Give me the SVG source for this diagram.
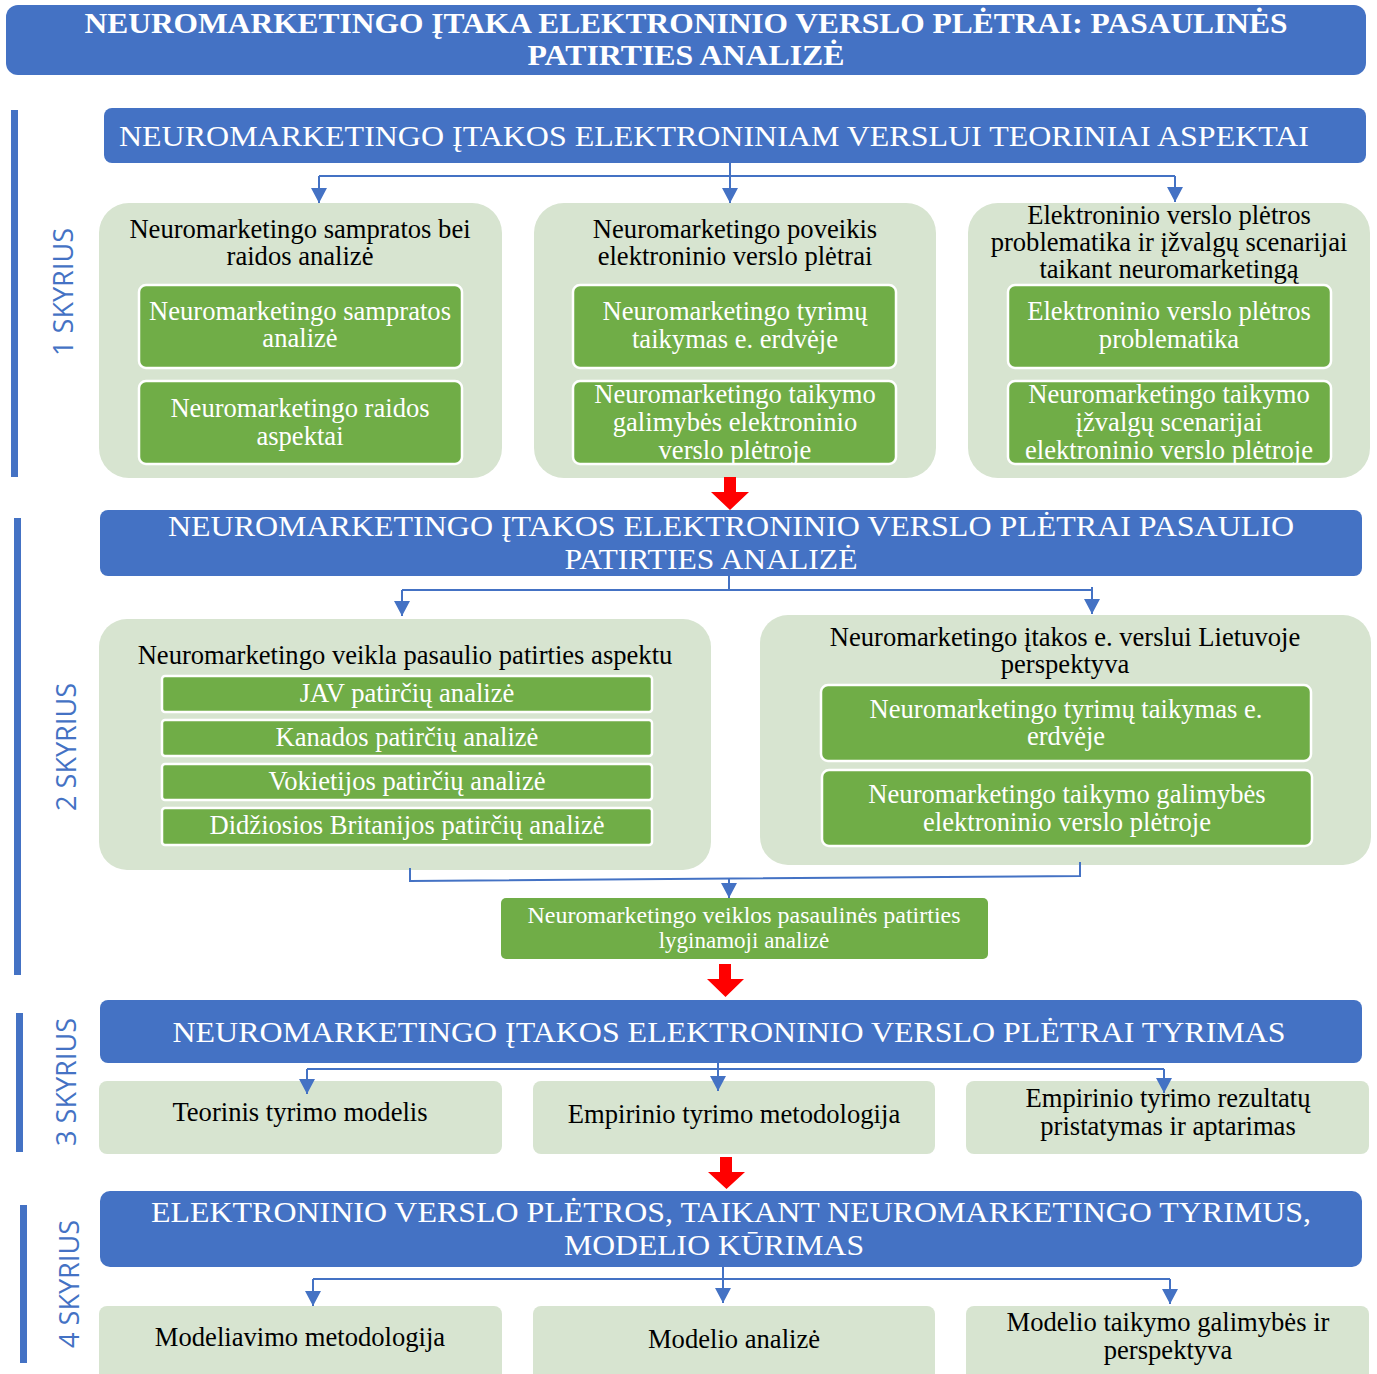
<svg xmlns="http://www.w3.org/2000/svg" width="1377" height="1374" viewBox="0 0 1377 1374">
<defs>
<style>
text{font-family:"Liberation Serif","Times New Roman",serif;text-anchor:middle}
.blue{fill:#4472C4}
.grp{fill:#D7E4D0}
.inner{fill:#70AD47;stroke:#FFFFFF;stroke-width:2.5}
.cmp{fill:#70AD47}
.t{font-size:26.6px;fill:#000}
.w{font-size:26.6px;fill:#FFF}
.h{font-size:30px;fill:#FFF}
.hb{font-size:30px;fill:#FFF;font-weight:bold}
.sk{font-family:"Open Sans","Noto Sans",sans-serif;font-size:27px;fill:#4472C4}
.con{fill:none;stroke:#4472C4;stroke-width:2}
.red{fill:#FF0000}
</style>
<marker id="ah" viewBox="0 0 15 16" refX="15" refY="8" markerWidth="15" markerHeight="16" markerUnits="userSpaceOnUse" orient="auto">
<path d="M0,0 L15,8 L0,16 z" fill="#4472C4"/>
</marker>
</defs>
<rect width="1377" height="1374" fill="#FFFFFF"/>

<g id="title">
<rect x="6" y="5" width="1360" height="70" rx="12" class="blue"/>
<text x="686" y="33" class="hb" textLength="1203" lengthAdjust="spacingAndGlyphs">NEUROMARKETINGO ĮTAKA ELEKTRONINIO VERSLO PLĖTRAI: PASAULINĖS</text>
<text x="686" y="65" class="hb" textLength="317" lengthAdjust="spacingAndGlyphs">PATIRTIES ANALIZĖ</text>
</g>

<g id="chapter-labels">
<rect x="11" y="110" width="7" height="367" class="blue"/>
<text class="sk" x="73" y="292" transform="rotate(-90 73 292)" textLength="128" lengthAdjust="spacingAndGlyphs">1 SKYRIUS</text>
<rect x="14" y="518" width="7" height="457" class="blue"/>
<text class="sk" x="76" y="747" transform="rotate(-90 76 747)" textLength="128" lengthAdjust="spacingAndGlyphs">2 SKYRIUS</text>
<rect x="16" y="1013" width="7" height="139" class="blue"/>
<text class="sk" x="76" y="1082" transform="rotate(-90 76 1082)" textLength="128" lengthAdjust="spacingAndGlyphs">3 SKYRIUS</text>
<rect x="20" y="1205" width="7" height="158" class="blue"/>
<text class="sk" x="79" y="1284" transform="rotate(-90 79 1284)" textLength="128" lengthAdjust="spacingAndGlyphs">4 SKYRIUS</text>
</g>

<g id="s1-header">
<rect x="104" y="108" width="1262" height="55" rx="8" class="blue"/>
<text x="714" y="146" class="h" textLength="1190" lengthAdjust="spacingAndGlyphs">NEUROMARKETINGO ĮTAKOS ELEKTRONINIAM VERSLUI TEORINIAI ASPEKTAI</text>
</g>

<g id="s1-group1">
<rect x="99" y="203" width="403" height="275" rx="30" class="grp"/>
<text x="300" y="238" class="t">Neuromarketingo sampratos bei</text>
<text x="300" y="265" class="t">raidos analizė</text>
</g>
<g id="s1-g1-a">
<rect x="139" y="285" width="323" height="83" rx="7" class="inner"/>
<text x="300" y="320" class="w">Neuromarketingo sampratos</text>
<text x="300" y="347" class="w">analizė</text>
</g>
<g id="s1-g1-b">
<rect x="139" y="381" width="323" height="83" rx="7" class="inner"/>
<text x="300" y="417" class="w">Neuromarketingo raidos</text>
<text x="300" y="445" class="w">aspektai</text>
</g>

<g id="s1-group2">
<rect x="534" y="203" width="402" height="275" rx="30" class="grp"/>
<text x="735" y="238" class="t">Neuromarketingo poveikis</text>
<text x="735" y="265" class="t">elektroninio verslo plėtrai</text>
</g>
<g id="s1-g2-a">
<rect x="573" y="285" width="323" height="83" rx="7" class="inner"/>
<text x="735" y="320" class="w">Neuromarketingo tyrimų</text>
<text x="735" y="348" class="w">taikymas e. erdvėje</text>
</g>
<g id="s1-g2-b">
<rect x="573" y="381" width="323" height="83" rx="7" class="inner"/>
<text x="735" y="403" class="w">Neuromarketingo taikymo</text>
<text x="735" y="431" class="w">galimybės elektroninio</text>
<text x="735" y="459" class="w">verslo plėtroje</text>
</g>

<g id="s1-group3">
<rect x="968" y="203" width="402" height="275" rx="30" class="grp"/>
<text x="1169" y="224" class="t">Elektroninio verslo plėtros</text>
<text x="1169" y="251" class="t">problematika ir įžvalgų scenarijai</text>
<text x="1169" y="278" class="t">taikant neuromarketingą</text>
</g>
<g id="s1-g3-a">
<rect x="1008" y="285" width="323" height="83" rx="7" class="inner"/>
<text x="1169" y="320" class="w">Elektroninio verslo plėtros</text>
<text x="1169" y="348" class="w">problematika</text>
</g>
<g id="s1-g3-b">
<rect x="1008" y="381" width="323" height="83" rx="7" class="inner"/>
<text x="1169" y="403" class="w">Neuromarketingo taikymo</text>
<text x="1169" y="431" class="w">įžvalgų scenarijai</text>
<text x="1169" y="459" class="w">elektroninio verslo plėtroje</text>
</g>

<g id="s2-header">
<rect x="100" y="510" width="1262" height="66" rx="8" class="blue"/>
<text x="731" y="536" class="h" textLength="1126" lengthAdjust="spacingAndGlyphs">NEUROMARKETINGO ĮTAKOS ELEKTRONINIO VERSLO PLĖTRAI PASAULIO</text>
<text x="711" y="569" class="h" textLength="293" lengthAdjust="spacingAndGlyphs">PATIRTIES ANALIZĖ</text>
</g>

<g id="s2-group1">
<rect x="99" y="619" width="612" height="251" rx="28" class="grp"/>
<text x="405" y="664" class="t">Neuromarketingo veikla pasaulio patirties aspektu</text>
</g>
<g id="s2-jav">
<rect x="162" y="676" width="490" height="36" rx="3" class="inner"/>
<text x="407" y="702" class="w">JAV patirčių analizė</text>
</g>
<g id="s2-kanada">
<rect x="162" y="720" width="490" height="36" rx="3" class="inner"/>
<text x="407" y="746" class="w">Kanados patirčių analizė</text>
</g>
<g id="s2-vokietija">
<rect x="162" y="764" width="490" height="36" rx="3" class="inner"/>
<text x="407" y="790" class="w">Vokietijos patirčių analizė</text>
</g>
<g id="s2-britanija">
<rect x="162" y="808" width="490" height="37" rx="3" class="inner"/>
<text x="407" y="834" class="w">Didžiosios Britanijos patirčių analizė</text>
</g>

<g id="s2-group2">
<rect x="760" y="615" width="611" height="250" rx="28" class="grp"/>
<text x="1065" y="646" class="t">Neuromarketingo įtakos e. verslui Lietuvoje</text>
<text x="1065" y="673" class="t">perspektyva</text>
</g>
<g id="s2-g2-a">
<rect x="821" y="685" width="490" height="76" rx="7" class="inner"/>
<text x="1066" y="718" class="w">Neuromarketingo tyrimų taikymas e.</text>
<text x="1066" y="745" class="w">erdvėje</text>
</g>
<g id="s2-g2-b">
<rect x="822" y="770" width="490" height="76" rx="7" class="inner"/>
<text x="1067" y="803" class="w">Neuromarketingo taikymo galimybės</text>
<text x="1067" y="831" class="w">elektroninio verslo plėtroje</text>
</g>

<g id="s2-compare">
<rect x="501" y="898" width="487" height="61" rx="5" class="cmp"/>
<text x="744" y="923" class="w" style="font-size:23px" textLength="433" lengthAdjust="spacingAndGlyphs">Neuromarketingo veiklos pasaulinės patirties</text>
<text x="744" y="948" class="w" style="font-size:23px">lyginamoji analizė</text>
</g>

<g id="s3-header">
<rect x="100" y="1000" width="1262" height="63" rx="8" class="blue"/>
<text x="729" y="1042" class="h" textLength="1113" lengthAdjust="spacingAndGlyphs">NEUROMARKETINGO ĮTAKOS ELEKTRONINIO VERSLO PLĖTRAI TYRIMAS</text>
</g>
<g id="s3-box1">
<rect x="99" y="1081" width="403" height="73" rx="8" class="grp"/>
<text x="300" y="1121" class="t">Teorinis tyrimo modelis</text>
</g>
<g id="s3-box2">
<rect x="533" y="1081" width="402" height="73" rx="8" class="grp"/>
<text x="734" y="1123" class="t">Empirinio tyrimo metodologija</text>
</g>
<g id="s3-box3">
<rect x="966" y="1081" width="403" height="73" rx="8" class="grp"/>
<text x="1168" y="1107" class="t">Empirinio tyrimo rezultatų</text>
<text x="1168" y="1135" class="t">pristatymas ir aptarimas</text>
</g>

<g id="s4-header">
<rect x="100" y="1191" width="1262" height="76" rx="10" class="blue"/>
<text x="731" y="1222" class="h" textLength="1160" lengthAdjust="spacingAndGlyphs">ELEKTRONINIO VERSLO PLĖTROS, TAIKANT NEUROMARKETINGO TYRIMUS,</text>
<text x="714" y="1255" class="h" textLength="300" lengthAdjust="spacingAndGlyphs">MODELIO KŪRIMAS</text>
</g>
<g id="s4-box1">
<rect x="99" y="1306" width="403" height="80" rx="8" class="grp"/>
<text x="300" y="1346" class="t">Modeliavimo metodologija</text>
</g>
<g id="s4-box2">
<rect x="533" y="1306" width="402" height="80" rx="8" class="grp"/>
<text x="734" y="1348" class="t">Modelio analizė</text>
</g>
<g id="s4-box3">
<rect x="966" y="1306" width="403" height="80" rx="8" class="grp"/>
<text x="1168" y="1331" class="t">Modelio taikymo galimybės ir</text>
<text x="1168" y="1359" class="t">perspektyva</text>
</g>

<g id="connectors">
<path class="con" d="M319,176 H1175"/>
<path class="con" d="M730,163 V203" marker-end="url(#ah)"/>
<path class="con" d="M319,176 V203" marker-end="url(#ah)"/>
<path class="con" d="M1175,176 V202" marker-end="url(#ah)"/>

<path class="con" d="M729,576 V590"/>
<path class="con" d="M402,590 H1092"/>
<path class="con" d="M402,590 V616" marker-end="url(#ah)"/>
<path class="con" d="M1092,587 V614" marker-end="url(#ah)"/>

<path class="con" d="M410,868 V881 L1080,876 V862"/>
<path class="con" d="M729,879 V898" marker-end="url(#ah)"/>

<path class="con" d="M307,1069 H1164"/>
<path class="con" d="M718,1063 V1091" marker-end="url(#ah)"/>
<path class="con" d="M307,1069 V1094" marker-end="url(#ah)"/>
<path class="con" d="M1164,1069 V1093" marker-end="url(#ah)"/>

<path class="con" d="M313,1279 H1170"/>
<path class="con" d="M723,1267 V1303" marker-end="url(#ah)"/>
<path class="con" d="M313,1279 V1306" marker-end="url(#ah)"/>
<path class="con" d="M1170,1279 V1304" marker-end="url(#ah)"/>

<polygon class="red" points="724,477 736,477 736,492 749,492 730,510 711,492 724,492"/>
<polygon class="red" points="719,964 731,964 731,979 744,979 725.5,997 707,979 719,979"/>
<polygon class="red" points="720,1157 732,1157 732,1172 745,1172 726.5,1189 708,1172 720,1172"/>
</g>
</svg>
